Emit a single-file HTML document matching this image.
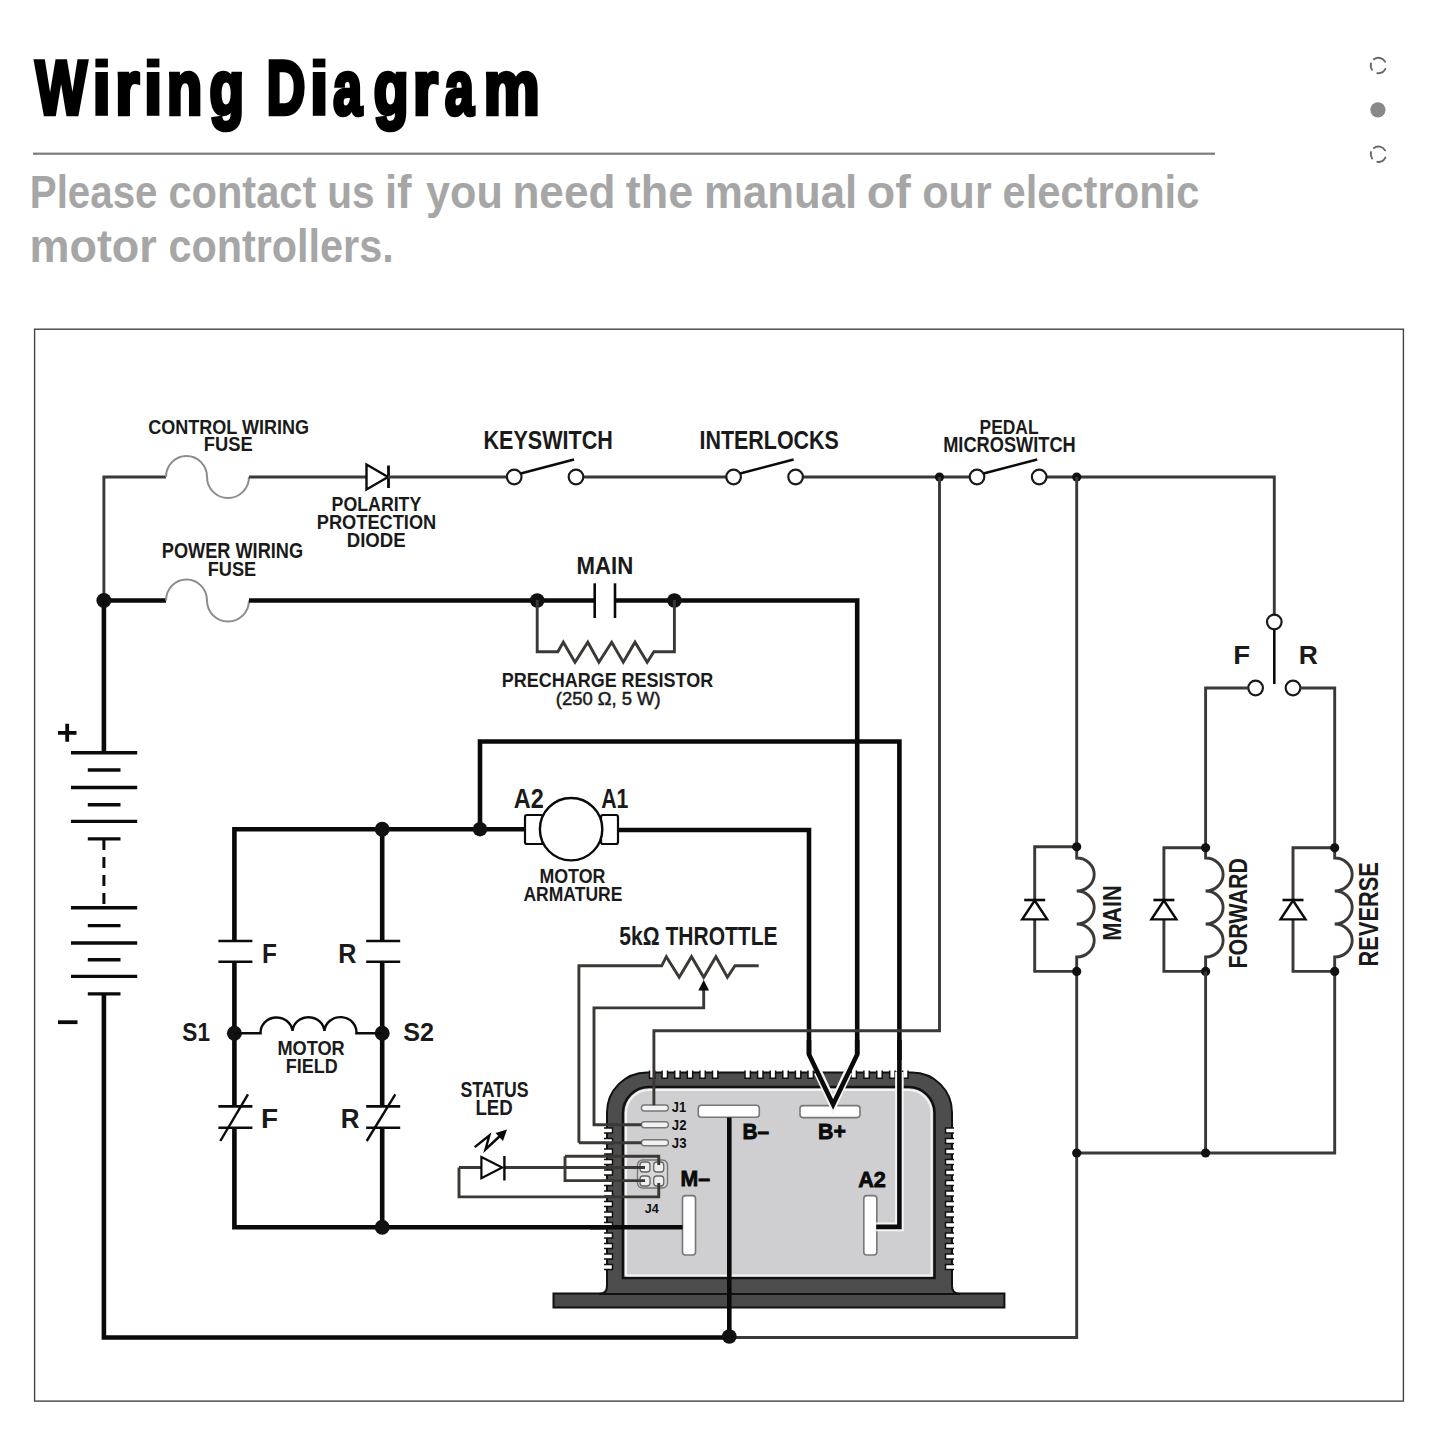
<!DOCTYPE html>
<html><head><meta charset="utf-8"><style>
html,body{margin:0;padding:0;background:#fff;}
svg{display:block;font-family:"Liberation Sans",sans-serif;}
</style></head><body>
<svg width="1440" height="1440" viewBox="0 0 1440 1440">
<g transform="translate(35.50,113.50) scale(0.7220,1)"><text x="-0.07" y="0" font-size="75.29" font-weight="bold" fill="#000" stroke="#000" stroke-width="4.60" stroke-linejoin="miter" stroke-miterlimit="2">W</text></g>
<rect x="95.4" y="58.6" width="12.5" height="8.8" fill="#000"/>
<rect x="95.4" y="72.0" width="12.5" height="43.8" fill="#000"/>
<g transform="translate(119.50,113.50) scale(0.8104,1)"><text x="-4.96" y="0" font-size="75.29" font-weight="bold" fill="#000" stroke="#000" stroke-width="4.60" stroke-linejoin="miter" stroke-miterlimit="2">r</text></g>
<rect x="146.8" y="58.6" width="12.6" height="8.8" fill="#000"/>
<rect x="146.8" y="72.0" width="12.6" height="43.8" fill="#000"/>
<g transform="translate(170.70,113.50) scale(0.7646,1)"><text x="-4.96" y="0" font-size="75.29" font-weight="bold" fill="#000" stroke="#000" stroke-width="4.60" stroke-linejoin="miter" stroke-miterlimit="2">n</text></g>
<g transform="translate(211.90,113.50) scale(0.7500,1)"><text x="-3.09" y="0" font-size="75.29" font-weight="bold" fill="#000" stroke="#000" stroke-width="4.60" stroke-linejoin="miter" stroke-miterlimit="2">g</text></g>
<g transform="translate(270.30,113.50) scale(0.7082,1)"><text x="-5.04" y="0" font-size="75.29" font-weight="bold" fill="#000" stroke="#000" stroke-width="4.60" stroke-linejoin="miter" stroke-miterlimit="2">D</text></g>
<rect x="312.8" y="58.6" width="12.6" height="8.8" fill="#000"/>
<rect x="312.8" y="72.0" width="12.6" height="43.8" fill="#000"/>
<g transform="translate(334.80,113.50) scale(0.6875,1)"><text x="-2.21" y="0" font-size="75.29" font-weight="bold" fill="#000" stroke="#000" stroke-width="4.60" stroke-linejoin="miter" stroke-miterlimit="2">a</text></g>
<g transform="translate(376.10,113.50) scale(0.7553,1)"><text x="-3.09" y="0" font-size="75.29" font-weight="bold" fill="#000" stroke="#000" stroke-width="4.60" stroke-linejoin="miter" stroke-miterlimit="2">g</text></g>
<g transform="translate(417.30,113.50) scale(0.8449,1)"><text x="-4.96" y="0" font-size="75.29" font-weight="bold" fill="#000" stroke="#000" stroke-width="4.60" stroke-linejoin="miter" stroke-miterlimit="2">r</text></g>
<g transform="translate(446.60,113.50) scale(0.6875,1)"><text x="-2.21" y="0" font-size="75.29" font-weight="bold" fill="#000" stroke="#000" stroke-width="4.60" stroke-linejoin="miter" stroke-miterlimit="2">a</text></g>
<g transform="translate(487.80,113.50) scale(0.8340,1)"><text x="-4.96" y="0" font-size="75.29" font-weight="bold" fill="#000" stroke="#000" stroke-width="4.60" stroke-linejoin="miter" stroke-miterlimit="2">m</text></g>
<rect x="33" y="152.6" width="1182" height="2.2" fill="#7a7a7a"/>
<text x="29.81" y="208.00" font-size="46.00" font-weight="bold" fill="#a6a6a6" textLength="127.67" lengthAdjust="spacingAndGlyphs">Please</text>
<text x="168.38" y="208.00" font-size="46.00" font-weight="bold" fill="#a6a6a6" textLength="147.93" lengthAdjust="spacingAndGlyphs">contact</text>
<text x="327.19" y="208.00" font-size="46.00" font-weight="bold" fill="#a6a6a6" textLength="47.27" lengthAdjust="spacingAndGlyphs">us</text>
<text x="384.95" y="208.00" font-size="46.00" font-weight="bold" fill="#a6a6a6" textLength="26.66" lengthAdjust="spacingAndGlyphs">if</text>
<text x="426.06" y="208.00" font-size="46.00" font-weight="bold" fill="#a6a6a6" textLength="76.78" lengthAdjust="spacingAndGlyphs">you</text>
<text x="512.39" y="208.00" font-size="46.00" font-weight="bold" fill="#a6a6a6" textLength="103.02" lengthAdjust="spacingAndGlyphs">need</text>
<text x="625.85" y="208.00" font-size="46.00" font-weight="bold" fill="#a6a6a6" textLength="67.38" lengthAdjust="spacingAndGlyphs">the</text>
<text x="704.12" y="208.00" font-size="46.00" font-weight="bold" fill="#a6a6a6" textLength="152.97" lengthAdjust="spacingAndGlyphs">manual</text>
<text x="866.68" y="208.00" font-size="46.00" font-weight="bold" fill="#a6a6a6" textLength="44.03" lengthAdjust="spacingAndGlyphs">of</text>
<text x="922.32" y="208.00" font-size="46.00" font-weight="bold" fill="#a6a6a6" textLength="69.33" lengthAdjust="spacingAndGlyphs">our</text>
<text x="1002.57" y="208.00" font-size="46.00" font-weight="bold" fill="#a6a6a6" textLength="196.75" lengthAdjust="spacingAndGlyphs">electronic</text>
<text x="29.54" y="262.20" font-size="46.00" font-weight="bold" fill="#a6a6a6" textLength="127.24" lengthAdjust="spacingAndGlyphs">motor</text>
<text x="168.38" y="262.20" font-size="46.00" font-weight="bold" fill="#a6a6a6" textLength="225.26" lengthAdjust="spacingAndGlyphs">controllers.</text>
<path d="M1373.87,59.27 A7.7,7.7 0 0 1 1385.07,61.65 M1385.32,68.88 A7.7,7.7 0 0 1 1377.33,73.13 M1372.02,69.81 A7.7,7.7 0 0 1 1371.00,63.38" fill="none" stroke="#666" stroke-width="1.9" stroke-linecap="round"/>
<path d="M1373.87,147.97 A7.7,7.7 0 0 1 1385.07,150.35 M1385.32,157.58 A7.7,7.7 0 0 1 1377.33,161.83 M1372.02,158.51 A7.7,7.7 0 0 1 1371.00,152.08" fill="none" stroke="#666" stroke-width="1.9" stroke-linecap="round"/>
<circle cx="1377.9" cy="109.8" r="7.6" fill="#888"/>
<rect x="34.6" y="329.2" width="1368.8" height="1071.9" fill="#fff" stroke="#444" stroke-width="1.4"/>
<path d="M103.9,600 V477 H166" fill="none" stroke="#3b3835" stroke-width="2.9" />
<path d="M166,477 A20.5,21 0 0 1 207,477 A21,21 0 0 0 249,477" fill="none" stroke="#8c8c8c" stroke-width="2.0" />
<path d="M249,477 H366" fill="none" stroke="#3b3835" stroke-width="2.9" />
<path d="M366.5,464.5 L388,477 L366.5,489.5 Z" fill="#fff" stroke="#0a0a0a" stroke-width="2.4" stroke-linejoin="miter"/>
<path d="M388.5,465.5 V488" fill="none" stroke="#0a0a0a" stroke-width="2.8" />
<path d="M388,477 H507 M583.3,477 H726.3 M802.9,477 H969.7 M1046.5,477 H1274.3 V614.5" fill="none" stroke="#3b3835" stroke-width="2.9" />
<circle cx="514.2" cy="477" r="7.3" fill="#fff" stroke="#1a1a1a" stroke-width="2.2"/>
<circle cx="576.0" cy="477" r="7.3" fill="#fff" stroke="#1a1a1a" stroke-width="2.2"/>
<path d="M520.7,473.5 L574.0,459.5" fill="none" stroke="#0a0a0a" stroke-width="2.4" />
<circle cx="733.6" cy="477" r="7.3" fill="#fff" stroke="#1a1a1a" stroke-width="2.2"/>
<circle cx="795.6" cy="477" r="7.3" fill="#fff" stroke="#1a1a1a" stroke-width="2.2"/>
<path d="M740.1,473.5 L793.6,459.5" fill="none" stroke="#0a0a0a" stroke-width="2.4" />
<circle cx="977.0" cy="477" r="7.3" fill="#fff" stroke="#1a1a1a" stroke-width="2.2"/>
<circle cx="1039.2" cy="477" r="7.3" fill="#fff" stroke="#1a1a1a" stroke-width="2.2"/>
<path d="M983.5,473.5 L1037.2,459.5" fill="none" stroke="#0a0a0a" stroke-width="2.4" />
<circle cx="939.5" cy="477" r="4.6" fill="#111"/>
<circle cx="1076.7" cy="477" r="4.6" fill="#111"/>
<text x="148.16" y="433.90" font-size="20.93" font-weight="bold" fill="#1a1a1a" textLength="160.75" lengthAdjust="spacingAndGlyphs" >CONTROL WIRING</text>
<text x="203.77" y="451.40" font-size="20.06" font-weight="bold" fill="#1a1a1a" textLength="48.94" lengthAdjust="spacingAndGlyphs" >FUSE</text>
<text x="331.61" y="511.00" font-size="19.91" font-weight="bold" fill="#1a1a1a" textLength="89.67" lengthAdjust="spacingAndGlyphs" >POLARITY</text>
<text x="316.78" y="529.00" font-size="19.77" font-weight="bold" fill="#1a1a1a" textLength="119.45" lengthAdjust="spacingAndGlyphs" >PROTECTION</text>
<text x="346.75" y="547.00" font-size="19.77" font-weight="bold" fill="#1a1a1a" textLength="58.97" lengthAdjust="spacingAndGlyphs" >DIODE</text>
<text x="483.56" y="448.60" font-size="24.86" font-weight="bold" fill="#1a1a1a" textLength="129.29" lengthAdjust="spacingAndGlyphs" >KEYSWITCH</text>
<text x="699.57" y="448.60" font-size="24.86" font-weight="bold" fill="#1a1a1a" textLength="139.27" lengthAdjust="spacingAndGlyphs" >INTERLOCKS</text>
<text x="979.54" y="433.70" font-size="20.93" font-weight="bold" fill="#1a1a1a" textLength="59.00" lengthAdjust="spacingAndGlyphs" >PEDAL</text>
<text x="943.18" y="451.70" font-size="21.51" font-weight="bold" fill="#1a1a1a" textLength="132.55" lengthAdjust="spacingAndGlyphs" >MICROSWITCH</text>
<circle cx="1274.3" cy="622" r="7.3" fill="#fff" stroke="#1a1a1a" stroke-width="2.2"/>
<path d="M1274.3,629.3 V684" fill="none" stroke="#0a0a0a" stroke-width="2.6" />
<circle cx="1255.6" cy="688" r="7.3" fill="#fff" stroke="#1a1a1a" stroke-width="2.2"/>
<circle cx="1293.0" cy="688" r="7.3" fill="#fff" stroke="#1a1a1a" stroke-width="2.2"/>
<path d="M1248.3,688 H1205.6 V847.8" fill="none" stroke="#3b3835" stroke-width="2.9" />
<path d="M1300.3,688 H1334.7 V847.8 M1334.7,971.4 V1153 H1076.7" fill="none" stroke="#3b3835" stroke-width="2.9" />
<text x="1233.15" y="664.30" font-size="26.31" font-weight="bold" fill="#1a1a1a" textLength="16.86" lengthAdjust="spacingAndGlyphs" >F</text>
<text x="1298.83" y="664.30" font-size="26.31" font-weight="bold" fill="#1a1a1a" textLength="19.11" lengthAdjust="spacingAndGlyphs" >R</text>
<path d="M103.9,600.5 H166" fill="none" stroke="#0a0a0a" stroke-width="4.6" />
<path d="M166,600.5 A20.5,21 0 0 1 207,600.5 A21,21 0 0 0 249,600.5" fill="none" stroke="#8c8c8c" stroke-width="2.0" />
<path d="M249,600.5 H594.7" fill="none" stroke="#0a0a0a" stroke-width="4.6" />
<path d="M615,600.5 H857.2 V1054.4" fill="none" stroke="#0a0a0a" stroke-width="4.6" stroke-linejoin="miter"/>
<path d="M594.7,583.3 V618" fill="none" stroke="#0a0a0a" stroke-width="2.6" />
<path d="M615,583.3 V618" fill="none" stroke="#0a0a0a" stroke-width="2.6" />
<circle cx="103.9" cy="600.5" r="7.5" fill="#111"/>
<circle cx="537.2" cy="600.5" r="7.3" fill="#111"/>
<circle cx="674.4" cy="600.5" r="7.3" fill="#111"/>
<path d="M537.2,600 V651.7 H557.8 L563.3,642.2 L575,662.2 L587.8,642.2 L598.9,662.2 L611.7,642.2 L623.3,662.2 L635,642.2 L647.2,662.2 L653.9,651.7 H674.4 V600" fill="none" stroke="#3b3835" stroke-width="2.9" stroke-linejoin="miter"/>
<text x="576.52" y="574.40" font-size="24.42" font-weight="bold" fill="#1a1a1a" textLength="56.68" lengthAdjust="spacingAndGlyphs" >MAIN</text>
<text x="161.78" y="557.80" font-size="21.37" font-weight="bold" fill="#1a1a1a" textLength="141.34" lengthAdjust="spacingAndGlyphs" >POWER WIRING</text>
<text x="207.79" y="575.50" font-size="20.79" font-weight="bold" fill="#1a1a1a" textLength="48.42" lengthAdjust="spacingAndGlyphs" >FUSE</text>
<text x="501.80" y="686.70" font-size="20.93" font-weight="bold" fill="#1a1a1a" textLength="211.37" lengthAdjust="spacingAndGlyphs" >PRECHARGE RESISTOR</text>
<text x="555.86" y="705.00" font-size="18.90" font-weight="normal" fill="#1a1a1a" textLength="104.68" lengthAdjust="spacingAndGlyphs" stroke="#1a1a1a" stroke-width="0.5">(250 Ω, 5 W)</text>
<path d="M103.9,600 V752.8" fill="none" stroke="#0a0a0a" stroke-width="4.6" />
<path d="M103.9,994 V1337.5 H729.3" fill="none" stroke="#0a0a0a" stroke-width="4.6" />
<path d="M729.3,1337.5 H1076.7 V971.4 M1076.7,846.8 V477" fill="none" stroke="#3b3835" stroke-width="2.9" />
<path d="M71,752.8 H137.2" fill="none" stroke="#0a0a0a" stroke-width="3.4" />
<path d="M71,787.5 H137.2" fill="none" stroke="#0a0a0a" stroke-width="3.4" />
<path d="M71,821.4 H137.2" fill="none" stroke="#0a0a0a" stroke-width="3.4" />
<path d="M71,907.8 H137.2" fill="none" stroke="#0a0a0a" stroke-width="3.4" />
<path d="M71,943.0 H137.2" fill="none" stroke="#0a0a0a" stroke-width="3.4" />
<path d="M71,976.4 H137.2" fill="none" stroke="#0a0a0a" stroke-width="3.4" />
<path d="M87.8,770.0 H120.5" fill="none" stroke="#0a0a0a" stroke-width="3.4" />
<path d="M87.8,804.7 H120.5" fill="none" stroke="#0a0a0a" stroke-width="3.4" />
<path d="M87.8,838.9 H120.5" fill="none" stroke="#0a0a0a" stroke-width="3.4" />
<path d="M87.8,925.6 H120.5" fill="none" stroke="#0a0a0a" stroke-width="3.4" />
<path d="M87.8,959.7 H120.5" fill="none" stroke="#0a0a0a" stroke-width="3.4" />
<path d="M87.8,993.9 H120.5" fill="none" stroke="#0a0a0a" stroke-width="3.4" />
<path d="M103.9,839 V907.8" fill="none" stroke="#0a0a0a" stroke-width="3.0" stroke-dasharray="11 7"/>
<path d="M58,732.8 H76.5 M67.2,723.8 V741.8" fill="none" stroke="#0a0a0a" stroke-width="3.8" />
<path d="M58,1022.2 H77.5" fill="none" stroke="#0a0a0a" stroke-width="3.8" />
<path d="M234.4,941 V829.2 H525" fill="none" stroke="#0a0a0a" stroke-width="4.6" />
<path d="M382.2,829.2 V941" fill="none" stroke="#0a0a0a" stroke-width="4.6" />
<path d="M480,829.2 V741.5 H899.4 V1060" fill="none" stroke="#0a0a0a" stroke-width="4.6" stroke-linejoin="miter"/>
<path d="M618,830 H809 V1054.4" fill="none" stroke="#0a0a0a" stroke-width="4.6" stroke-linejoin="miter"/>
<circle cx="382.2" cy="829.2" r="7.5" fill="#111"/>
<circle cx="480" cy="829.2" r="7.3" fill="#111"/>
<rect x="525" y="815" width="18" height="29" rx="2" fill="#fff" stroke="#0a0a0a" stroke-width="2.2"/>
<rect x="601" y="815" width="17" height="29" rx="2" fill="#fff" stroke="#0a0a0a" stroke-width="2.2"/>
<circle cx="571.1" cy="829.2" r="31.2" fill="#fff" stroke="#0a0a0a" stroke-width="2.4"/>
<text x="513.82" y="807.50" font-size="27.33" font-weight="bold" fill="#1a1a1a" textLength="29.92" lengthAdjust="spacingAndGlyphs" >A2</text>
<text x="601.17" y="807.50" font-size="27.33" font-weight="bold" fill="#1a1a1a" textLength="27.22" lengthAdjust="spacingAndGlyphs" >A1</text>
<text x="539.41" y="883.00" font-size="20.79" font-weight="bold" fill="#1a1a1a" textLength="65.95" lengthAdjust="spacingAndGlyphs" >MOTOR</text>
<text x="523.47" y="900.80" font-size="20.49" font-weight="bold" fill="#1a1a1a" textLength="98.91" lengthAdjust="spacingAndGlyphs" >ARMATURE</text>
<path d="M218.4,941 H252.4 M218.4,961.7 H252.4" fill="none" stroke="#0a0a0a" stroke-width="2.6" />
<path d="M366.2,941 H400.2 M366.2,961.7 H400.2" fill="none" stroke="#0a0a0a" stroke-width="2.6" />
<path d="M234.4,961.7 V1106.4 M234.4,1127.8 V1227.2 H682.5" fill="none" stroke="#0a0a0a" stroke-width="4.6" stroke-linejoin="miter"/>
<path d="M382.2,961.7 V1106.4 M382.2,1127.8 V1227.2" fill="none" stroke="#0a0a0a" stroke-width="4.6" />
<path d="M218.4,1106.4 H252.4 M218.4,1127.8 H252.4" fill="none" stroke="#0a0a0a" stroke-width="2.6" />
<path d="M366.2,1106.4 H400.2 M366.2,1127.8 H400.2" fill="none" stroke="#0a0a0a" stroke-width="2.6" />
<path d="M220.3,1141 L248,1094.4" fill="none" stroke="#0a0a0a" stroke-width="2.4" />
<path d="M366.7,1141 L395.3,1094.4" fill="none" stroke="#0a0a0a" stroke-width="2.4" />
<text x="261.96" y="962.50" font-size="28.20" font-weight="bold" fill="#1a1a1a" textLength="14.93" lengthAdjust="spacingAndGlyphs" >F</text>
<text x="338.31" y="962.50" font-size="28.20" font-weight="bold" fill="#1a1a1a" textLength="18.20" lengthAdjust="spacingAndGlyphs" >R</text>
<text x="260.93" y="1128.30" font-size="27.04" font-weight="bold" fill="#1a1a1a" textLength="17.10" lengthAdjust="spacingAndGlyphs" >F</text>
<text x="340.76" y="1128.30" font-size="27.04" font-weight="bold" fill="#1a1a1a" textLength="18.77" lengthAdjust="spacingAndGlyphs" >R</text>
<circle cx="234.4" cy="1033.3" r="7.5" fill="#111"/>
<circle cx="382.2" cy="1033.3" r="7.5" fill="#111"/>
<circle cx="382.2" cy="1227.2" r="7.5" fill="#111"/>
<path d="M234.4,1033.3 H260.6 A16,15 0 0 1 292.5,1031 A16,15 0 0 1 324.4,1031 A16,15 0 0 1 356.4,1033.3 H382.2" fill="none" stroke="#0a0a0a" stroke-width="2.4" />
<text x="182.35" y="1041.00" font-size="25.15" font-weight="bold" fill="#1a1a1a" textLength="27.68" lengthAdjust="spacingAndGlyphs" >S1</text>
<text x="403.17" y="1041.00" font-size="25.15" font-weight="bold" fill="#1a1a1a" textLength="30.84" lengthAdjust="spacingAndGlyphs" >S2</text>
<text x="277.39" y="1054.70" font-size="20.79" font-weight="bold" fill="#1a1a1a" textLength="67.38" lengthAdjust="spacingAndGlyphs" >MOTOR</text>
<text x="285.80" y="1072.80" font-size="20.93" font-weight="bold" fill="#1a1a1a" textLength="51.96" lengthAdjust="spacingAndGlyphs" >FIELD</text>
<path d="M1076.7,846.8 V858 A17.5,16.5 0 0 1 1076.7,891 A17.5,16.5 0 0 1 1076.7,924 A17.5,16.5 0 0 1 1076.7,957 V971.4" fill="none" stroke="#3b3835" stroke-width="2.9" />
<path d="M1076.7,846.8 H1034.7 V971.4 H1076.7" fill="none" stroke="#3b3835" stroke-width="2.9" />
<path d="M1022.2,919.4 H1047.2 L1034.7,900.5 Z" fill="#fff" stroke="#0a0a0a" stroke-width="2.4" stroke-linejoin="miter"/>
<path d="M1024.2,900 H1045.2" fill="none" stroke="#0a0a0a" stroke-width="2.6" />
<circle cx="1076.7" cy="846.8" r="4.6" fill="#111"/>
<circle cx="1076.7" cy="971.4" r="4.6" fill="#111"/>
<path d="M1205.6,847.8 V858 A17.5,16.5 0 0 1 1205.6,891 A17.5,16.5 0 0 1 1205.6,924 A17.5,16.5 0 0 1 1205.6,957 V971.4" fill="none" stroke="#3b3835" stroke-width="2.9" />
<path d="M1205.6,847.8 H1163.9 V971.4 H1205.6" fill="none" stroke="#3b3835" stroke-width="2.9" />
<path d="M1151.4,919.4 H1176.4 L1163.9,900.5 Z" fill="#fff" stroke="#0a0a0a" stroke-width="2.4" stroke-linejoin="miter"/>
<path d="M1153.4,900 H1174.4" fill="none" stroke="#0a0a0a" stroke-width="2.6" />
<circle cx="1205.6" cy="847.8" r="4.6" fill="#111"/>
<circle cx="1205.6" cy="971.4" r="4.6" fill="#111"/>
<path d="M1334.7,847.8 V858 A17.5,16.5 0 0 1 1334.7,891 A17.5,16.5 0 0 1 1334.7,924 A17.5,16.5 0 0 1 1334.7,957 V971.4" fill="none" stroke="#3b3835" stroke-width="2.9" />
<path d="M1334.7,847.8 H1293.0 V971.4 H1334.7" fill="none" stroke="#3b3835" stroke-width="2.9" />
<path d="M1280.5,919.4 H1305.5 L1293.0,900.5 Z" fill="#fff" stroke="#0a0a0a" stroke-width="2.4" stroke-linejoin="miter"/>
<path d="M1282.5,900 H1303.5" fill="none" stroke="#0a0a0a" stroke-width="2.6" />
<circle cx="1334.7" cy="847.8" r="4.6" fill="#111"/>
<circle cx="1334.7" cy="971.4" r="4.6" fill="#111"/>
<path d="M1205.6,971.4 V1153" fill="none" stroke="#3b3835" stroke-width="2.9" />
<circle cx="1076.7" cy="1153" r="4.6" fill="#111"/>
<circle cx="1205.6" cy="1153" r="4.6" fill="#111"/>
<g transform="translate(1112.4,913.05) rotate(-90)">
<text x="-27.81" y="8.40" font-size="26.31" font-weight="bold" fill="#1a1a1a" textLength="55.62" lengthAdjust="spacingAndGlyphs" >MAIN</text>
</g>
<g transform="translate(1238.9,913.05) rotate(-90)">
<text x="-55.57" y="8.30" font-size="26.02" font-weight="bold" fill="#1a1a1a" textLength="110.61" lengthAdjust="spacingAndGlyphs" >FORWARD</text>
</g>
<g transform="translate(1369.4,914.0) rotate(-90)">
<text x="-52.46" y="8.85" font-size="27.62" font-weight="bold" fill="#1a1a1a" textLength="104.31" lengthAdjust="spacingAndGlyphs" >REVERSE</text>
</g>
<g id="ctrl">
<path d="M553.5,1293.5 H1004.4 V1307.5 H553.5 Z" fill="#4a4a4a" stroke="#111" stroke-width="2"/>
<path d="M599,1294 Q607,1294 607,1286 V1112.4 A40,40 0 0 1 647,1072.4 H912 A40,40 0 0 1 952,1112.4 V1286 Q952,1294 960,1294 Z" fill="#4d4d4d" stroke="#111" stroke-width="2"/>
<path d="M604,1128.0 H612.5 V1133.0 H604" fill="#fff" stroke="#111" stroke-width="1.5"/>
<path d="M954,1128.0 H945.5 V1133.0 H954" fill="#fff" stroke="#111" stroke-width="1.5"/>
<path d="M604,1138.5 H612.5 V1143.5 H604" fill="#fff" stroke="#111" stroke-width="1.5"/>
<path d="M954,1138.5 H945.5 V1143.5 H954" fill="#fff" stroke="#111" stroke-width="1.5"/>
<path d="M604,1149.0 H612.5 V1154.0 H604" fill="#fff" stroke="#111" stroke-width="1.5"/>
<path d="M954,1149.0 H945.5 V1154.0 H954" fill="#fff" stroke="#111" stroke-width="1.5"/>
<path d="M604,1159.5 H612.5 V1164.5 H604" fill="#fff" stroke="#111" stroke-width="1.5"/>
<path d="M954,1159.5 H945.5 V1164.5 H954" fill="#fff" stroke="#111" stroke-width="1.5"/>
<path d="M604,1170.0 H612.5 V1175.0 H604" fill="#fff" stroke="#111" stroke-width="1.5"/>
<path d="M954,1170.0 H945.5 V1175.0 H954" fill="#fff" stroke="#111" stroke-width="1.5"/>
<path d="M604,1180.5 H612.5 V1185.5 H604" fill="#fff" stroke="#111" stroke-width="1.5"/>
<path d="M954,1180.5 H945.5 V1185.5 H954" fill="#fff" stroke="#111" stroke-width="1.5"/>
<path d="M604,1191.0 H612.5 V1196.0 H604" fill="#fff" stroke="#111" stroke-width="1.5"/>
<path d="M954,1191.0 H945.5 V1196.0 H954" fill="#fff" stroke="#111" stroke-width="1.5"/>
<path d="M604,1201.5 H612.5 V1206.5 H604" fill="#fff" stroke="#111" stroke-width="1.5"/>
<path d="M954,1201.5 H945.5 V1206.5 H954" fill="#fff" stroke="#111" stroke-width="1.5"/>
<path d="M604,1212.0 H612.5 V1217.0 H604" fill="#fff" stroke="#111" stroke-width="1.5"/>
<path d="M954,1212.0 H945.5 V1217.0 H954" fill="#fff" stroke="#111" stroke-width="1.5"/>
<path d="M604,1222.5 H612.5 V1227.5 H604" fill="#fff" stroke="#111" stroke-width="1.5"/>
<path d="M954,1222.5 H945.5 V1227.5 H954" fill="#fff" stroke="#111" stroke-width="1.5"/>
<path d="M604,1233.0 H612.5 V1238.0 H604" fill="#fff" stroke="#111" stroke-width="1.5"/>
<path d="M954,1233.0 H945.5 V1238.0 H954" fill="#fff" stroke="#111" stroke-width="1.5"/>
<path d="M604,1243.5 H612.5 V1248.5 H604" fill="#fff" stroke="#111" stroke-width="1.5"/>
<path d="M954,1243.5 H945.5 V1248.5 H954" fill="#fff" stroke="#111" stroke-width="1.5"/>
<path d="M604,1254.0 H612.5 V1259.0 H604" fill="#fff" stroke="#111" stroke-width="1.5"/>
<path d="M954,1254.0 H945.5 V1259.0 H954" fill="#fff" stroke="#111" stroke-width="1.5"/>
<path d="M604,1264.5 H612.5 V1269.5 H604" fill="#fff" stroke="#111" stroke-width="1.5"/>
<path d="M954,1264.5 H945.5 V1269.5 H954" fill="#fff" stroke="#111" stroke-width="1.5"/>
<path d="M649.5,1070.5 V1078.3 H654.9 V1070.5" fill="#fff" stroke="#111" stroke-width="1.5"/>
<path d="M662.1,1070.5 V1078.3 H667.5 V1070.5" fill="#fff" stroke="#111" stroke-width="1.5"/>
<path d="M674.7,1070.5 V1078.3 H680.1 V1070.5" fill="#fff" stroke="#111" stroke-width="1.5"/>
<path d="M687.3,1070.5 V1078.3 H692.7 V1070.5" fill="#fff" stroke="#111" stroke-width="1.5"/>
<path d="M699.9,1070.5 V1078.3 H705.3 V1070.5" fill="#fff" stroke="#111" stroke-width="1.5"/>
<path d="M712.5,1070.5 V1078.3 H717.9 V1070.5" fill="#fff" stroke="#111" stroke-width="1.5"/>
<path d="M745.0,1070.5 V1078.3 H750.4 V1070.5" fill="#fff" stroke="#111" stroke-width="1.5"/>
<path d="M757.6,1070.5 V1078.3 H763.0 V1070.5" fill="#fff" stroke="#111" stroke-width="1.5"/>
<path d="M770.2,1070.5 V1078.3 H775.6 V1070.5" fill="#fff" stroke="#111" stroke-width="1.5"/>
<path d="M782.8,1070.5 V1078.3 H788.2 V1070.5" fill="#fff" stroke="#111" stroke-width="1.5"/>
<path d="M795.4,1070.5 V1078.3 H800.8 V1070.5" fill="#fff" stroke="#111" stroke-width="1.5"/>
<path d="M808.0,1070.5 V1078.3 H813.4 V1070.5" fill="#fff" stroke="#111" stroke-width="1.5"/>
<path d="M851.0,1070.5 V1078.3 H856.4 V1070.5" fill="#fff" stroke="#111" stroke-width="1.5"/>
<path d="M863.9,1070.5 V1078.3 H869.3 V1070.5" fill="#fff" stroke="#111" stroke-width="1.5"/>
<path d="M876.8,1070.5 V1078.3 H882.2 V1070.5" fill="#fff" stroke="#111" stroke-width="1.5"/>
<path d="M889.7,1070.5 V1078.3 H895.1 V1070.5" fill="#fff" stroke="#111" stroke-width="1.5"/>
<path d="M902.6,1070.5 V1078.3 H908.0 V1070.5" fill="#fff" stroke="#111" stroke-width="1.5"/>
<path d="M623,1278 V1113 A26,26 0 0 1 649,1087 H908.5 A26,26 0 0 1 934.5,1113 V1278 Z" fill="#cfcfd1" stroke="#111" stroke-width="2.6"/>
<path d="M626,1275.5 V1113 A23,23 0 0 1 649,1090 H908.5 A23,23 0 0 1 931.5,1113 V1275.5 H626" fill="none" stroke="#f4f4f4" stroke-width="2"/>
<rect x="641.4" y="1105.0" width="27" height="6" rx="3" fill="#f2f2f2" stroke="#777" stroke-width="1.4"/>
<rect x="641.4" y="1121.7" width="27" height="6" rx="3" fill="#f2f2f2" stroke="#777" stroke-width="1.4"/>
<rect x="641.4" y="1139.8" width="27" height="6" rx="3" fill="#f2f2f2" stroke="#777" stroke-width="1.4"/>
<text x="671.80" y="1112.20" font-size="13.95" font-weight="bold" fill="#111" textLength="14.35" lengthAdjust="spacingAndGlyphs" >J1</text>
<text x="671.80" y="1129.60" font-size="13.95" font-weight="bold" fill="#111" textLength="14.73" lengthAdjust="spacingAndGlyphs" >J2</text>
<text x="671.80" y="1147.60" font-size="13.95" font-weight="bold" fill="#111" textLength="14.68" lengthAdjust="spacingAndGlyphs" >J3</text>
<rect x="637.5" y="1160" width="30" height="28" rx="5" fill="#d8d8d8" stroke="#777" stroke-width="1.4"/>
<rect x="640" y="1162" width="10" height="10" rx="3" fill="#eee" stroke="#666" stroke-width="1.3"/>
<rect x="653.75" y="1162" width="10" height="10" rx="3" fill="#eee" stroke="#666" stroke-width="1.3"/>
<rect x="640" y="1176" width="10" height="10" rx="3" fill="#eee" stroke="#666" stroke-width="1.3"/>
<rect x="653.75" y="1176" width="10" height="10" rx="3" fill="#eee" stroke="#666" stroke-width="1.3"/>
<text x="644.81" y="1212.50" font-size="13.66" font-weight="bold" fill="#111" textLength="14.01" lengthAdjust="spacingAndGlyphs" >J4</text>
<rect x="698.3" y="1105.3" width="61" height="12" rx="3" fill="#fff" stroke="#777" stroke-width="1.6"/>
<rect x="800" y="1105.6" width="60" height="12" rx="3" fill="#fff" stroke="#777" stroke-width="1.6"/>
<text x="742.51" y="1139.30" font-size="22.09" font-weight="bold" fill="#0a0a0a" textLength="26.63" lengthAdjust="spacingAndGlyphs" stroke="#0a0a0a" stroke-width="0.8">B–</text>
<text x="817.97" y="1139.40" font-size="22.82" font-weight="bold" fill="#0a0a0a" textLength="27.89" lengthAdjust="spacingAndGlyphs" stroke="#0a0a0a" stroke-width="0.8">B+</text>
<rect x="682.5" y="1195.6" width="13" height="59.4" rx="3" fill="#fff" stroke="#777" stroke-width="1.6"/>
<rect x="863.8" y="1195.6" width="13" height="59.4" rx="3" fill="#fff" stroke="#777" stroke-width="1.6"/>
<text x="680.48" y="1186.25" font-size="22.17" font-weight="bold" fill="#0a0a0a" textLength="29.58" lengthAdjust="spacingAndGlyphs" stroke="#0a0a0a" stroke-width="0.8">M–</text>
<text x="858.21" y="1186.90" font-size="22.82" font-weight="bold" fill="#0a0a0a" textLength="27.65" lengthAdjust="spacingAndGlyphs" stroke="#0a0a0a" stroke-width="0.8">A2</text>
</g>
<text x="619.25" y="945.00" font-size="26.16" font-weight="bold" fill="#1a1a1a" textLength="158.37" lengthAdjust="spacingAndGlyphs" >5kΩ THROTTLE</text>
<path d="M578.9,1142.8 V965.8 H661.7 L666.3,956.7 L679.2,977.3 L691.5,956.7 L703.7,977.3 L715.9,956.7 L727.4,977.3 L735,965.8 H758.7" fill="none" stroke="#3b3835" stroke-width="2.9" stroke-linejoin="miter"/>
<path d="M703.7,989 V1007.9 H594 V1124.7 H641.4" fill="none" stroke="#3b3835" stroke-width="2.9" />
<path d="M703.7,980 L698.3,990.5 H709.1 Z" fill="#0a0a0a"/>
<path d="M939.5,477 V1030.8 H653.9 V1105.3" fill="none" stroke="#3b3835" stroke-width="2.9" />
<path d="M578.9,1142.8 H641.4" fill="none" stroke="#3b3835" stroke-width="2.9" />
<text x="460.51" y="1096.70" font-size="21.37" font-weight="bold" fill="#1a1a1a" textLength="67.95" lengthAdjust="spacingAndGlyphs" >STATUS</text>
<text x="475.45" y="1115.30" font-size="22.09" font-weight="bold" fill="#1a1a1a" textLength="37.33" lengthAdjust="spacingAndGlyphs" >LED</text>
<path d="M459,1167.5 H481.4 M504.4,1167.5 H645" fill="none" stroke="#3b3835" stroke-width="2.9" />
<path d="M459,1167.5 V1196.9 H658.75 V1183" fill="none" stroke="#3b3835" stroke-width="2.9" />
<path d="M481.4,1157 L502.2,1167.5 L481.4,1178.3 Z" fill="#fff" stroke="#0a0a0a" stroke-width="2.2"/>
<path d="M504.4,1156 V1180.5" fill="none" stroke="#0a0a0a" stroke-width="2.4" />
<path d="M474.7,1147.1 L489.3,1135.5 L485.5,1149.5 L501,1135" fill="none" stroke="#0a0a0a" stroke-width="2.4" stroke-linejoin="miter"/>
<path d="M507,1129.5 L495.5,1133 L503,1141 Z" fill="#0a0a0a"/>
<path d="M565,1156.25 V1180.6 H645 M565,1156.25 H658.75 V1165" fill="none" stroke="#3b3835" stroke-width="2.9" />
<path d="M818,1072 L833.1,1104.4 L848.2,1072" fill="none" stroke="#f4f4f4" stroke-width="8.6" />
<path d="M899.4,1072 V1226.9 H876.2" fill="none" stroke="#f4f4f4" stroke-width="8.6" stroke-linejoin="miter"/>
<path d="M809,1040 V1054.4 L833.1,1104.4 L857.2,1054.4 V1040" fill="none" stroke="#0a0a0a" stroke-width="4.6" stroke-linejoin="miter"/>
<path d="M899.4,1040 V1226.9 H876.2" fill="none" stroke="#0a0a0a" stroke-width="4.6" stroke-linejoin="miter"/>
<path d="M729.3,1117.5 V1337.5" fill="none" stroke="#0a0a0a" stroke-width="4.6" />
<circle cx="729.3" cy="1336.5" r="7.3" fill="#111"/>
<path d="M590,1227.2 H682.5" fill="none" stroke="#0a0a0a" stroke-width="4.6" />
</svg>
</body></html>
